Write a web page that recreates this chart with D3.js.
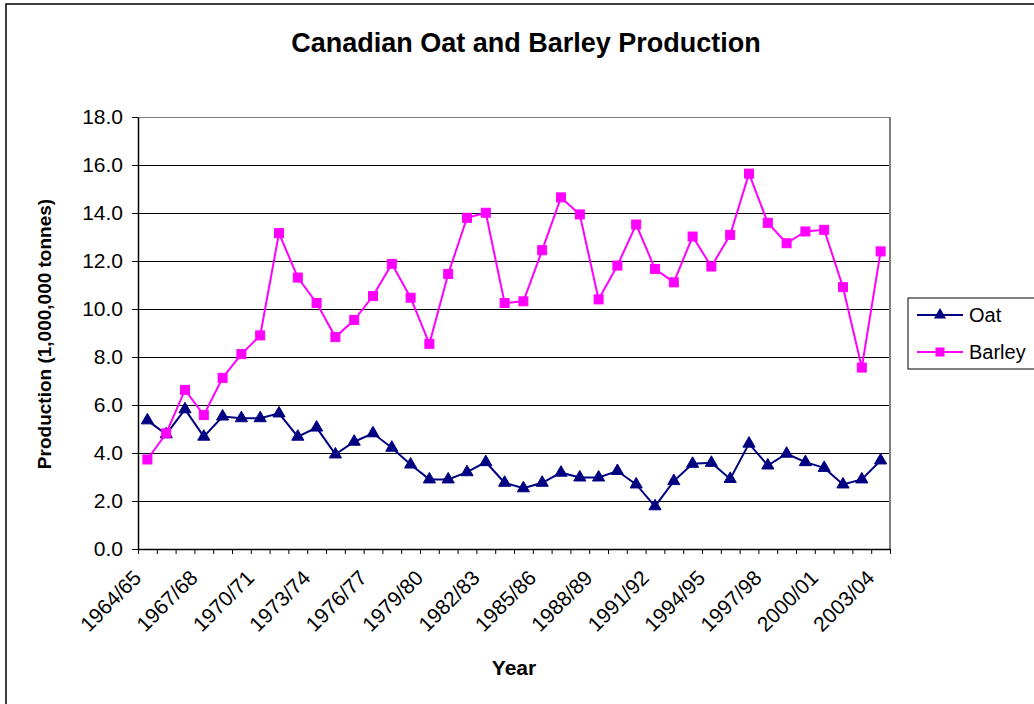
<!DOCTYPE html>
<html>
<head>
<meta charset="utf-8">
<script src="https://cdn.jsdelivr.net/npm/d3@7"></script>
<style>
  html, body { margin: 0; padding: 0; background: #fff; }
  svg { display: block; font-family: "Liberation Sans", Arial, sans-serif; }
</style>
</head>
<body>
<svg id="chart" width="1034" height="704"></svg>
<script>
const categories = ["1964/65","1965/66","1966/67","1967/68","1968/69","1969/70","1970/71","1971/72","1972/73","1973/74",
  "1974/75","1975/76","1976/77","1977/78","1978/79","1979/80","1980/81","1981/82","1982/83","1983/84",
  "1984/85","1985/86","1986/87","1987/88","1988/89","1989/90","1990/91","1991/92","1992/93","1993/94",
  "1994/95","1995/96","1996/97","1997/98","1998/99","1999/00","2000/01","2001/02","2002/03","2003/04"];
const tickLabels = ["1964/65","1967/68","1970/71","1973/74","1976/77","1979/80","1982/83","1985/86","1988/89","1991/92","1994/95","1997/98","2000/01","2003/04"];
const oat = [5.36,4.78,5.82,4.68,5.52,5.45,5.45,5.65,4.68,5.06,
  3.94,4.47,4.82,4.22,3.52,2.90,2.90,3.20,3.62,2.76,
  2.53,2.76,3.18,2.98,2.98,3.25,2.69,1.78,2.83,3.55,
  3.59,2.92,4.39,3.48,3.97,3.62,3.38,2.69,2.90,3.69];
const barley = [3.73,4.82,6.63,5.58,7.13,8.12,8.90,13.16,11.31,10.25,
  8.83,9.54,10.54,11.88,10.47,8.55,11.46,13.80,14.01,10.25,
  10.32,12.45,14.65,13.94,10.40,11.81,13.52,11.67,11.11,13.02,
  11.77,13.09,15.64,13.59,12.74,13.23,13.30,10.91,7.56,12.40];
const yTicks = [0,2,4,6,8,10,12,14,16,18];
const seriesNames = ["Oat","Barley"];
const seriesColors = ["#000080","#FF00FF"];

const svg = d3.select("#chart");
const L = 138, R = 890, T = 117, B = 549;

// chart area border
svg.append("rect").attr("x",6).attr("y",4).attr("width",1100).attr("height",800)
  .attr("fill","#fff").attr("stroke","#000").attr("stroke-width",1.5);

const x = d3.scaleBand().domain(categories).range([L,R]).padding(0);
const xb = d3.scaleLinear().domain([0,categories.length]).range([L,R]);
const y = d3.scaleLinear().domain([0,18]).range([B,T]);

// gridlines
svg.append("g").selectAll("line").data(yTicks.filter(d=>d>0)).join("line")
  .attr("x1",L).attr("x2",R).attr("y1",d=>y(d)).attr("y2",d=>y(d))
  .attr("stroke", d => d===18 ? "#808080" : "#000").attr("stroke-width",1).attr("shape-rendering","crispEdges");
// right border
svg.append("line").attr("x1",R).attr("x2",R).attr("y1",T).attr("y2",B)
  .attr("stroke","#808080").attr("stroke-width",2).attr("shape-rendering","crispEdges");

// y axis
const yAxis = svg.append("g").attr("transform",`translate(${L},0)`)
  .call(d3.axisLeft(y).tickValues(yTicks).tickFormat(d3.format(".1f")).tickSizeInner(6).tickSizeOuter(0).tickPadding(9));
yAxis.select(".domain").attr("stroke","#000").attr("stroke-width",1.5);
yAxis.selectAll(".tick line").attr("stroke","#000");
yAxis.selectAll("text").attr("font-size",21).attr("fill","#000").attr("font-family","Liberation Sans, Arial, sans-serif");

// x axis boundaries ticks
const xAxisB = svg.append("g").attr("transform",`translate(0,${B})`)
  .call(d3.axisBottom(xb).tickValues(d3.range(categories.length+1)).tickFormat("").tickSizeInner(5).tickSizeOuter(0));
xAxisB.select(".domain").attr("stroke","#000").attr("stroke-width",1.5);
xAxisB.selectAll(".tick line").attr("stroke","#000");

// x labels
const xAxisL = svg.append("g").attr("transform",`translate(0,${B})`)
  .call(d3.axisBottom(x).tickValues(tickLabels).tickSize(0));
xAxisL.select(".domain").remove();
xAxisL.selectAll("text")
  .attr("font-size",21).attr("fill","#000").attr("font-family","Liberation Sans, Arial, sans-serif")
  .attr("text-anchor","end").attr("x",0).attr("y",0).attr("dy","0.35em")
  .attr("transform","translate(-10,25) rotate(-45)");

// lines
const line = d3.line().x((d,i)=>x(categories[i]) + x.bandwidth()/2).y(d=>y(d));
const data = [oat, barley];
data.forEach((vals, si) => {
  svg.append("path").datum(vals).attr("d", line).attr("fill","none")
    .attr("stroke", seriesColors[si]).attr("stroke-width", 2);
});

// markers
const tri = d3.symbol().type(d3.symbolTriangle).size(64);
svg.append("g").selectAll("path").data(oat).join("path")
  .attr("d", tri)
  .attr("transform",(d,i)=>`translate(${x(categories[i]) + x.bandwidth()/2},${y(d)})`)
  .attr("fill", seriesColors[0]).attr("stroke", seriesColors[0]).attr("stroke-width",1);
svg.append("g").selectAll("rect").data(barley).join("rect")
  .attr("x",(d,i)=>x(categories[i]) + x.bandwidth()/2 - 4.5)
  .attr("y",d=>y(d)-4.5).attr("width",9).attr("height",9)
  .attr("fill", seriesColors[1]).attr("stroke", seriesColors[1]).attr("stroke-width",1);

// title
svg.append("text").attr("x",526).attr("y",52).attr("text-anchor","middle")
  .attr("font-size",27).attr("font-weight","bold").text("Canadian Oat and Barley Production");
// y title
svg.append("text").attr("transform","translate(51,334) rotate(-90)").attr("text-anchor","middle")
  .attr("font-size",19).attr("font-weight","bold").text("Production (1,000,000 tonnes)");
// x title
svg.append("text").attr("x",514).attr("y",675).attr("text-anchor","middle")
  .attr("font-size",21).attr("font-weight","bold").text("Year");

// legend
const lg = svg.append("g");
lg.append("rect").attr("x",908).attr("y",298).attr("width",200).attr("height",71)
  .attr("fill","#fff").attr("stroke","#000").attr("stroke-width",1);
const ly = [315, 352];
seriesNames.forEach((n, i) => {
  lg.append("line").attr("x1",917).attr("x2",963).attr("y1",ly[i]).attr("y2",ly[i])
    .attr("stroke",seriesColors[i]).attr("stroke-width",2);
  if (i === 0) {
    lg.append("path").attr("d",tri).attr("transform",`translate(940,${ly[i]})`).attr("fill",seriesColors[i]);
  } else {
    lg.append("rect").attr("x",935.5).attr("y",ly[i]-4.5).attr("width",9).attr("height",9).attr("fill",seriesColors[i]);
  }
  lg.append("text").attr("x",969).attr("y",ly[i]).attr("dy","0.35em").attr("font-size",20).text(n);
});
</script>
</body>
</html>
